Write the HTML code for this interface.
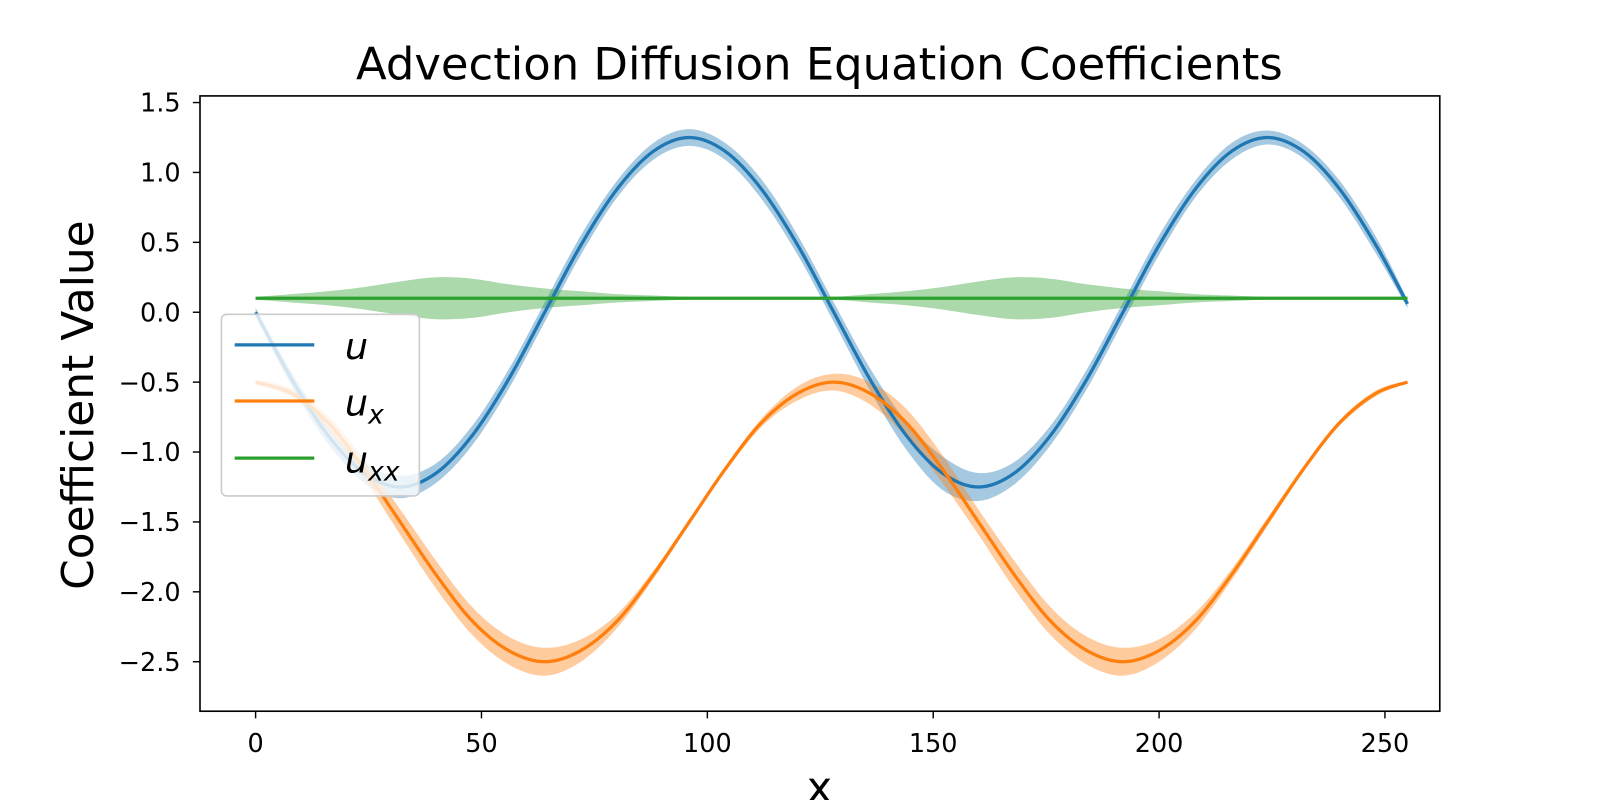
<!DOCTYPE html>
<html><head><meta charset="utf-8"><style>
html,body{margin:0;padding:0;background:#fff;}
svg{display:block;font-family:"DejaVu Sans","Liberation Sans",sans-serif;}
</style></head><body>
<svg id="chart" width="1600" height="800" viewBox="0 0 1600 800">
<g transform="scale(1.0204)">
<text x="803" y="78" font-size="44" text-anchor="middle">Advection Diffusion Equation Coefficients</text>
<text transform="translate(91,397) rotate(-90)" font-size="43" text-anchor="middle">Coefficient Value</text>
<text x="803" y="786" font-size="42" text-anchor="middle">x</text>
<g id="bands"></g><g id="lines"></g>
<rect x="196" y="94" width="1215" height="603" fill="none" stroke="#000" stroke-width="1.6"/>
<g id="ticks" font-size="25"></g>
<g>
<rect x="217" y="308" width="194" height="178" rx="5" fill="#fff" fill-opacity="0.8" stroke="#ccc" stroke-width="1.6"/>
<line x1="230" y1="338" x2="308" y2="338" stroke="#1f77b4" stroke-width="3.2"/>
<text x="338" y="352" font-size="36" font-style="italic">u</text>
<line x1="230" y1="393" x2="308" y2="393" stroke="#ff7f0e" stroke-width="3.2"/>
<text x="338" y="407" font-size="36" font-style="italic">u<tspan font-size="26" dy="8">x</tspan></text>
<line x1="230" y1="449" x2="308" y2="449" stroke="#2ca02c" stroke-width="3.2"/>
<text x="338" y="463" font-size="36" font-style="italic">u<tspan font-size="26" dy="8">xx</tspan></text>
</g>
</g>
</svg>
<script>
const xs=[0,8,16,24,32,40,48,56,64,72,80,88,96,104,112,120,128,136,144,152,160,168,176,184,192,200,208,216,224,232,240,248,255];
const uVals=[0,-0.48,-0.88,-1.15,-1.25,-1.15,-0.88,-0.48,0,0.48,0.88,1.15,1.25,1.15,0.88,0.48,0,-0.48,-0.88,-1.15,-1.25,-1.15,-0.88,-0.48,0,0.48,0.88,1.15,1.25,1.15,0.88,0.48,0.06];
const uxVals=[-0.5,-0.58,-0.79,-1.12,-1.5,-1.88,-2.21,-2.42,-2.5,-2.42,-2.21,-1.88,-1.5,-1.12,-0.79,-0.58,-0.5,-0.58,-0.79,-1.12,-1.5,-1.88,-2.21,-2.42,-2.5,-2.42,-2.21,-1.88,-1.5,-1.12,-0.79,-0.58,-0.5];
const uxxVals=[0.1,0.1,0.1,0.1,0.1,0.1,0.1,0.1,0.1,0.1,0.1,0.1,0.1,0.1,0.1,0.1,0.1,0.1,0.1,0.1,0.1,0.1,0.1,0.1,0.1,0.1,0.1,0.1,0.1,0.1,0.1,0.1,0.1];
const uErr=[0.03,0.05,0.06,0.07,0.08,0.07,0.07,0.07,0.07,0.07,0.06,0.06,0.06,0.06,0.07,0.07,0.07,0.08,0.1,0.12,0.1,0.08,0.07,0.07,0.07,0.07,0.06,0.06,0.05,0.05,0.06,0.06,0.03];
const uxErr=[0.02,0.03,0.05,0.07,0.09,0.1,0.1,0.1,0.1,0.08,0.05,0.03,0.02,0.02,0.03,0.05,0.06,0.08,0.1,0.1,0.09,0.1,0.1,0.1,0.1,0.08,0.06,0.04,0.03,0.02,0.02,0.02,0.01];
const uxxErr=[0.01,0.03,0.05,0.08,0.12,0.15,0.14,0.1,0.07,0.05,0.03,0.02,0.01,0.005,0,0,0.01,0.03,0.05,0.08,0.12,0.15,0.14,0.1,0.07,0.05,0.03,0.02,0.01,0.005,0,0,0];
const xTicks=[0,50,100,150,200,250];
const yTicks=[1.5,1.0,0.5,0.0,-0.5,-1.0,-1.5,-2.0,-2.5];
const NS='http://www.w3.org/2000/svg';
const sx=v=>250.5+v*4.427;
const sy=v=>306-v*137;
function smooth(pts){let d='M'+pts[0][0]+','+pts[0][1];
for(let i=0;i<pts.length-1;i++){const p0=pts[Math.max(0,i-1)],p1=pts[i],p2=pts[i+1],p3=pts[Math.min(pts.length-1,i+2)];
d+=' C'+(p1[0]+(p2[0]-p0[0])/6)+','+(p1[1]+(p2[1]-p0[1])/6)+' '+(p2[0]-(p3[0]-p1[0])/6)+','+(p2[1]-(p3[1]-p1[1])/6)+' '+p2[0]+','+p2[1];}
return d;}
const series=[['u',uVals,uErr,'#1f77b4'],['ux',uxVals,uxErr,'#ff7f0e'],['uxx',uxxVals,uxxErr,'#2ca02c']];
const bands=document.getElementById('bands'),lines=document.getElementById('lines');
series.forEach(s=>{
 const up=xs.map((x,i)=>[sx(x),sy(s[1][i]+s[2][i])]);
 const lo=xs.map((x,i)=>[sx(x),sy(s[1][i]-s[2][i])]).reverse();
 const b=document.createElementNS(NS,'path');
 b.setAttribute('d',smooth(up)+' L'+smooth(lo).slice(1)+' Z');
 b.setAttribute('fill',s[3]);b.setAttribute('fill-opacity','0.4');
 
 
 bands.appendChild(b);
 const l=document.createElementNS(NS,'path');
 l.setAttribute('d',smooth(xs.map((x,i)=>[sx(x),sy(s[1][i])])));
 l.setAttribute('fill','none');l.setAttribute('stroke',s[3]);l.setAttribute('stroke-width','3.2');
 
 
 lines.appendChild(l);
});
const tg=document.getElementById('ticks');
xTicks.forEach(t=>{
 const ln=document.createElementNS(NS,'line');
 ln.setAttribute('x1',sx(t));ln.setAttribute('x2',sx(t));ln.setAttribute('y1',697);ln.setAttribute('y2',704);ln.setAttribute('stroke','#000');ln.setAttribute('stroke-width','1.4');
 
 
 tg.appendChild(ln);
 const tx=document.createElementNS(NS,'text');
 tx.setAttribute('x',sx(t));tx.setAttribute('y',737);tx.setAttribute('text-anchor','middle');tx.textContent=t;
 
 
 tg.appendChild(tx);
});
yTicks.forEach(t=>{
 const ln=document.createElementNS(NS,'line');
 ln.setAttribute('x1',189);ln.setAttribute('x2',196);ln.setAttribute('y1',sy(t));ln.setAttribute('y2',sy(t));ln.setAttribute('stroke','#000');ln.setAttribute('stroke-width','1.4');
 
 
 tg.appendChild(ln);
 const tx=document.createElementNS(NS,'text');
 tx.setAttribute('x',177);tx.setAttribute('y',sy(t)+9);tx.setAttribute('text-anchor','end');
 tx.textContent=(t<0?'\u2212':'')+Math.abs(t).toFixed(1);
 
 
 tg.appendChild(tx);
});
</script>
</body></html>
